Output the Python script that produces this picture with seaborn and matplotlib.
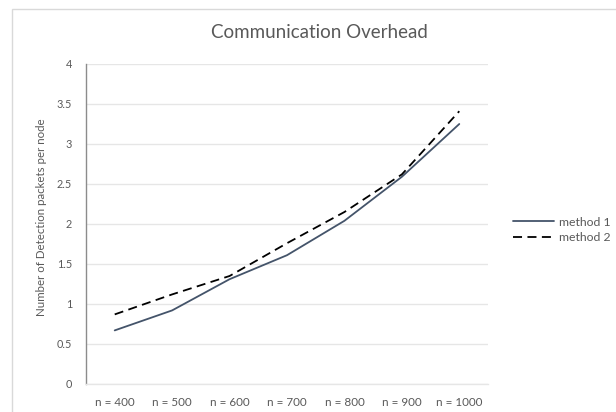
import matplotlib
matplotlib.use("Agg")
import matplotlib.pyplot as plt
from matplotlib.patches import Rectangle
import pandas as pd
import seaborn as sns

# Network sizes and per-node detection packet counts
node_counts = ["n = 400", "n = 500", "n = 600", "n = 700", "n = 800", "n = 900", "n = 1000"]
method1 = [0.67, 0.92, 1.31, 1.61, 2.04, 2.59, 3.25]
method2 = [0.87, 1.12, 1.35, 1.76, 2.15, 2.62, 3.41]
series_names = ["method 1", "method 2"]
y_ticks = [0, 0.5, 1, 1.5, 2, 2.5, 3, 3.5, 4]

df = pd.DataFrame({
    "n": node_counts * 2,
    "packets": method1 + method2,
    "method": [series_names[0]] * len(node_counts) + [series_names[1]] * len(node_counts),
})
df["pos"] = list(range(len(node_counts))) * 2

sns.set_theme(style="white")
plt.rcParams["font.family"] = ["Lato", "DejaVu Sans"]

text_color = "#595959"
fig = plt.figure(figsize=(6.16, 4.12), dpi=100)
ax = fig.add_axes([86 / 616, 1 - 384 / 412, (488 - 86) / 616, (384 - 64) / 412])

# Chart frame
fig.patches.append(Rectangle((12 / 616, -0.05), 1.0, 1 - 9 / 412 + 0.05,
                             transform=fig.transFigure, fill=False,
                             edgecolor="#d9d9d9", linewidth=1.0))

sns.lineplot(data=df, x="pos", y="packets", hue="method", style="method",
             palette={"method 1": "#44546a", "method 2": "#000000"},
             dashes={"method 1": "", "method 2": (5, 3)},
             linewidth=1.3, ax=ax, legend=True)

ax.set_xlim(-0.5, len(node_counts) - 0.5)
ax.set_ylim(0, 4)
ax.set_xticks(range(len(node_counts)))
ax.set_xticklabels(node_counts)
ax.set_yticks(y_ticks)
ax.set_yticklabels([f"{t:g}" for t in y_ticks])
ax.tick_params(axis="x", length=0, labelsize=8.4, colors=text_color, pad=9)
ax.tick_params(axis="y", length=0, labelsize=7.8, colors=text_color, pad=10)
ax.yaxis.grid(True, color="#e6e6e6", linewidth=1.0)
ax.set_axisbelow(True)

for side in ["top", "right"]:
    ax.spines[side].set_visible(False)
ax.spines["bottom"].set_color("#e6e6e6")
ax.spines["bottom"].set_linewidth(1.0)
ax.spines["left"].set_color("#8c8c8c")
ax.spines["left"].set_linewidth(1.0)

ax.set_xlabel("")
ax.set_ylabel("")
fig.text(42 / 616, 1 - 217 / 412, "Number of Detection packets per node",
         rotation=90, ha="center", va="center", fontsize=8.3, color=text_color)
fig.text(319 / 616, 1 - 33 / 412, "Communication Overhead", ha="center",
         va="center", fontsize=13.5, color=text_color)

handles, labels = ax.get_legend_handles_labels()
ax.legend(handles, labels, loc="center left",
          bbox_to_anchor=(508 / 616, 1 - 230 / 412), bbox_transform=fig.transFigure,
          frameon=False, fontsize=8.8, labelcolor=text_color, borderaxespad=0,
          handlelength=3.4, handletextpad=0.35, labelspacing=0.4)

fig.savefig("out.png", dpi=100)
